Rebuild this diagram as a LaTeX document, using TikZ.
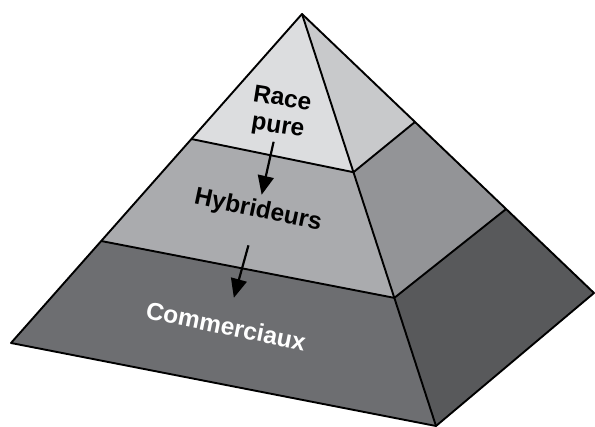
\documentclass[tikz,border=0pt]{standalone}
\usepackage{fontspec}
\setmainfont{Liberation Sans}
\usetikzlibrary{calc,arrows.meta}
\definecolor{topfront}{HTML}{DCDDDF}
\definecolor{topright}{HTML}{C8C9CB}
\definecolor{midfront}{HTML}{AAABAE}
\definecolor{midright}{HTML}{939497}
\definecolor{lowfront}{HTML}{6D6E71}
\definecolor{lowright}{HTML}{58595B}

\begin{document}
\begin{tikzpicture}[x=1pt,y=-1pt,
 edge/.style={line width=1.9pt,line join=round},
 tier/.style={font=\bfseries\fontsize{24.5}{27.5}\selectfont,align=center,inner sep=2pt},
 flow/.style={-{Triangle[length=19pt,width=16pt]},line width=2.2pt}]
 \useasboundingbox (0,0) rectangle (595,427);
 \coordinate (A) at (302,14);
 \coordinate (L) at (11,343);
 \coordinate (F) at (436,426);
 \coordinate (R) at (594,293);
 \coordinate (P1) at ($(A)!.380!(L)$);
 \coordinate (P2) at ($(A)!.690!(L)$);
 \coordinate (Q1) at ($(A)!.384!(F)$);
 \coordinate (Q2) at ($(A)!.689!(F)$);
 \coordinate (S1) at ($(A)!.387!(R)$);
 \coordinate (S2) at ($(A)!.699!(R)$);
 \fill[topfront] (A)--(P1)--(Q1)--cycle;
 \fill[topright] (A)--(Q1)--(S1)--cycle;
 \fill[midfront] (P1)--(P2)--(Q2)--(Q1)--cycle;
 \fill[midright] (Q1)--(Q2)--(S2)--(S1)--cycle;
 \fill[lowfront] (P2)--(L)--(F)--(Q2)--cycle;
 \fill[lowright] (Q2)--(F)--(R)--(S2)--cycle;
 \draw[edge] (A)--(L)--(F)--(R)--cycle;
 \draw[edge] (A)--(F);
 \draw[edge] (P1)--(Q1)--(S1);
 \draw[edge] (P2)--(Q2)--(S2);
 \node[tier,rotate=-9] (race) at (280,113.5) {Race\\pure};
 \node[tier,rotate=-12] (hyb) at (258,211) {Hybrideurs};
 \node[tier,rotate=-11.5,text=white] (comm) at (226,326) {Commerciaux};
 \draw[flow,shorten <=2pt,shorten >=3pt] (race)--(hyb);
 \draw[flow,shorten <=22pt,shorten >=18pt] (hyb)--(comm);
\end{tikzpicture}
\end{document}
